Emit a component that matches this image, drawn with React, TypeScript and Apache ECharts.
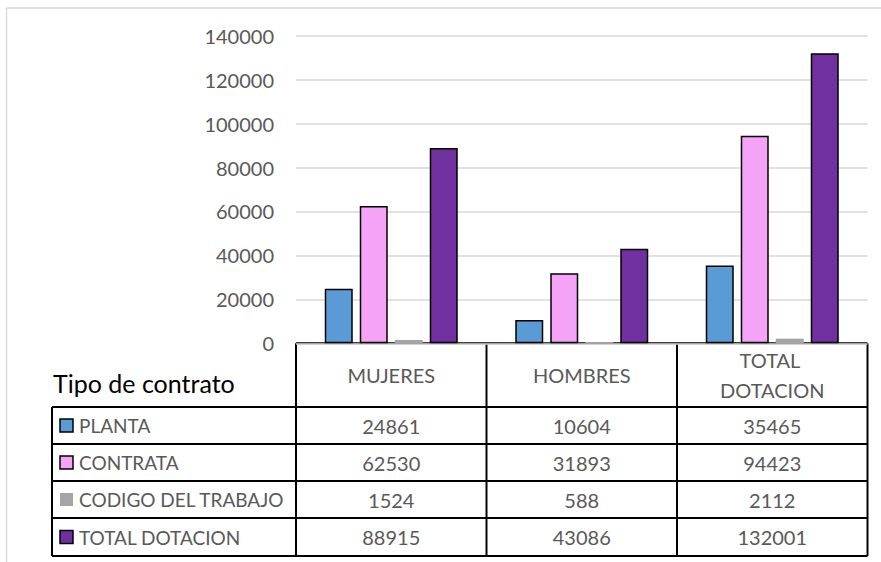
import React, { useEffect, useRef } from "react";
import * as echarts from "echarts";

const categories = ["MUJERES", "HOMBRES", "TOTAL DOTACION"];
const seriesNames = ["PLANTA", "CONTRATA", "CODIGO DEL TRABAJO", "TOTAL DOTACION"];
const planta = [24861, 10604, 35465];
const contrata = [62530, 31893, 94423];
const codigo = [1524, 588, 2112];
const totalDotacion = [88915, 43086, 132001];
const yTicks = [0, 20000, 40000, 60000, 80000, 100000, 120000, 140000];
const tableTitle = "Tipo de contrato";

const seriesData = [planta, contrata, codigo, totalDotacion];
const colors = ["#5b9bd5", "#f5a3f6", "#a5a5a5", "#7030a0"];
const hasBorder = [true, true, false, true];

const W = 881;
const H = 562;
const FONT = "Lato, 'Open Sans', sans-serif";

export default function App() {
  const ref = useRef<HTMLDivElement>(null);
  useEffect(() => {
    if (!ref.current) return;
    const chart = echarts.init(ref.current, null, { renderer: "svg" });

    const gridLeft = 296;
    const gridRight = 867.5;
    const gridTop = 35.7;
    const gridBottom = 343.3;
    const tableLeft = 52;
    const rowBounds = [407, 444, 481, 518, 556];
    const colW = (gridRight - gridLeft) / categories.length;
    const lineStyle = { stroke: "#000", lineWidth: 2 };

    const graphics: any[] = [];
    // outer frame (light)
    graphics.push({ type: "line", shape: { x1: 6.5, y1: 8, x2: W, y2: 8 }, style: { stroke: "#d9d9d9", lineWidth: 1.5 } });
    graphics.push({ type: "line", shape: { x1: 6.5, y1: 8, x2: 6.5, y2: H }, style: { stroke: "#d9d9d9", lineWidth: 1.5 } });

    // table horizontal lines
    graphics.push({ type: "line", shape: { x1: gridLeft, y1: gridBottom, x2: gridRight, y2: gridBottom }, style: lineStyle });
    rowBounds.forEach((y) => {
      graphics.push({ type: "line", shape: { x1: tableLeft, y1: y, x2: gridRight, y2: y }, style: lineStyle });
    });
    // vertical lines
    graphics.push({ type: "line", shape: { x1: tableLeft, y1: rowBounds[0], x2: tableLeft, y2: rowBounds[rowBounds.length - 1] }, style: lineStyle });
    for (let i = 0; i <= categories.length; i++) {
      const x = gridLeft + i * colW;
      graphics.push({ type: "line", shape: { x1: x, y1: gridBottom, x2: x, y2: rowBounds[rowBounds.length - 1] }, style: lineStyle });
    }

    // title of table
    graphics.push({
      type: "text",
      x: 53,
      y: 383,
      style: { text: tableTitle, fill: "#000", font: `25px ${FONT}`, align: "left", textAlign: "left", verticalAlign: "middle", textVerticalAlign: "middle" },
    });

    // header texts
    categories.forEach((c, i) => {
      const cx = gridLeft + (i + 0.5) * colW;
      graphics.push({
        type: "text",
        x: cx,
        y: (gridBottom + rowBounds[0]) / 2,
        style: {
          text: c,
          fill: "#595959",
          font: `20px ${FONT}`,
          width: 140,
          overflow: "break",
          lineHeight: 30,
          align: "center",
          textAlign: "center",
          verticalAlign: "middle",
          textVerticalAlign: "middle",
        },
      });
    });

    // rows
    seriesNames.forEach((name, r) => {
      const cy = (rowBounds[r] + rowBounds[r + 1]) / 2;
      graphics.push({
        type: "rect",
        shape: { x: 60, y: cy - 6.5, width: 13, height: 13 },
        style: hasBorder[r]
          ? { fill: colors[r], stroke: "#000", lineWidth: 1.5 }
          : { fill: colors[r] },
      });
      graphics.push({
        type: "text",
        x: 79,
        y: cy,
        style: { text: name, fill: "#595959", font: `19px ${FONT}`, align: "left", textAlign: "left", verticalAlign: "middle", textVerticalAlign: "middle" },
      });
      seriesData[r].forEach((v, i) => {
        graphics.push({
          type: "text",
          x: gridLeft + (i + 0.5) * colW,
          y: cy,
          style: { text: String(v), fill: "#595959", font: `20px ${FONT}`, align: "center", textAlign: "center", verticalAlign: "middle", textVerticalAlign: "middle" },
        });
      });
    });

    chart.setOption({
      animation: false,
      backgroundColor: "#fff",
      grid: {
        left: gridLeft,
        top: gridTop,
        width: gridRight - gridLeft,
        height: gridBottom - gridTop,
        containLabel: false,
      },
      xAxis: {
        type: "category",
        data: categories,
        axisLine: { show: false },
        axisTick: { show: false },
        axisLabel: { show: false },
        splitLine: { show: false },
      },
      yAxis: {
        type: "value",
        min: yTicks[0],
        max: yTicks[yTicks.length - 1],
        interval: yTicks[1] - yTicks[0],
        axisLine: { show: false },
        axisTick: { show: false },
        axisLabel: {
          color: "#595959",
          fontSize: 20,
          fontFamily: FONT,
          margin: 22,
          formatter: (v: number) => String(v),
        },
        splitLine: { lineStyle: { color: "#d9d9d9", width: 1.5 } },
      },
      series: seriesNames.map((name, i) => ({
        type: "bar",
        name,
        data: seriesData[i],
        barWidth: 28,
        barGap: "25%",
        itemStyle: {
          color: colors[i],
          borderColor: hasBorder[i] ? "#000" : colors[i],
          borderWidth: hasBorder[i] ? 1.5 : 0,
        },
      })),
      graphic: graphics,
    });

    return () => chart.dispose();
  }, []);

  return (
    <div
      ref={ref}
      style={{ position: "fixed", left: 0, top: 0, width: W, height: H, background: "#fff" }}
    />
  );
}
